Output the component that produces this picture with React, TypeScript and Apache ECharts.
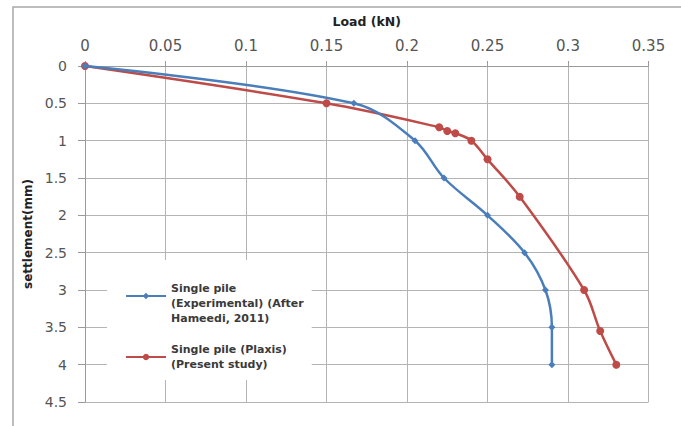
import React, { useEffect, useRef } from "react";
import * as echarts from "echarts";

const loadTicks = [0, 0.05, 0.1, 0.15, 0.2, 0.25, 0.3, 0.35];
const settlementTicks = [0, 0.5, 1, 1.5, 2, 2.5, 3, 3.5, 4, 4.5];

const expLoad = [0, 0.167, 0.205, 0.223, 0.25, 0.273, 0.286, 0.29, 0.29];
const expSettlement = [0, 0.5, 1.0, 1.5, 2.0, 2.5, 3.0, 3.5, 4.0];

const plaxisLoad = [0, 0.15, 0.22, 0.225, 0.23, 0.24, 0.25, 0.27, 0.31, 0.32, 0.33];
const plaxisSettlement = [0, 0.5, 0.82, 0.87, 0.9, 1.0, 1.25, 1.75, 3.0, 3.55, 4.0];

const expName = "Single pile (Experimental) (After Hameedi, 2011)";
const plaxisName = "Single pile (Plaxis) (Present study)";
const legendLabels: Record<string, string> = {
  [expName]: " \nSingle pile\n(Experimental) (After\nHameedi, 2011)",
  [plaxisName]: "Single pile (Plaxis)\n(Present study)",
};

export default function App() {
  const ref = useRef<HTMLDivElement>(null);
  useEffect(() => {
    if (!ref.current) return;
    const chart = echarts.init(ref.current, null, { renderer: "svg" });
    const pair = (xs: number[], ys: number[]) => xs.map((x, i) => [x, ys[i]]);
    chart.setOption({
      animation: false,
      backgroundColor: "#ffffff",
      grid: { left: 85, right: 32.5, top: 66, bottom: 24, containLabel: false },
      graphic: [
        {
          type: "rect",
          shape: { x: 13, y: 7, width: 720, height: 460 },
          style: { fill: "none", stroke: "#a8a8a8", lineWidth: 1.5 },
          silent: true,
          z: -10,
        },
      ],
      xAxis: {
        type: "value",
        position: "top",
        min: loadTicks[0],
        max: loadTicks[loadTicks.length - 1],
        interval: 0.05,
        name: "Load (kN)",
        nameLocation: "middle",
        nameGap: 38,
        nameTextStyle: { fontFamily: "DejaVu Sans", fontWeight: "bold", fontSize: 12.5, color: "#222" },
        axisLine: { show: true, lineStyle: { color: "#9a9a9a", width: 1 } },
        axisTick: { show: true, length: 5, lineStyle: { color: "#9a9a9a" } },
        axisLabel: {
          fontFamily: "DejaVu Sans",
          fontSize: 15,
          color: "#555",
          margin: 13,
          formatter: (v: number) => String(Math.round(v * 100) / 100),
        },
        splitLine: { show: true, lineStyle: { color: "#b4b4b4", width: 1 } },
      },
      yAxis: {
        type: "value",
        inverse: true,
        min: settlementTicks[0],
        max: settlementTicks[settlementTicks.length - 1],
        interval: 0.5,
        name: "settlement(mm)",
        nameLocation: "middle",
        nameGap: 50,
        nameTextStyle: { fontFamily: "DejaVu Sans", fontWeight: "bold", fontSize: 12, color: "#222" },
        axisLine: { show: true, lineStyle: { color: "#9a9a9a", width: 1 } },
        axisTick: { show: true, length: 7, lineStyle: { color: "#9a9a9a" } },
        axisLabel: {
          fontFamily: "DejaVu Sans",
          fontSize: 14,
          color: "#555",
          margin: 18,
          formatter: (v: number) => String(v),
        },
        splitLine: { show: true, lineStyle: { color: "#b4b4b4", width: 1 } },
      },
      legend: {
        orient: "vertical",
        left: 107,
        top: 260,
        padding: [6, 8, 8, 18],
        backgroundColor: "#ffffff",
        itemWidth: 40,
        itemHeight: 8,
        itemGap: 16,
        data: [expName, plaxisName],
        formatter: (name: string) => legendLabels[name] || name,
        textStyle: {
          fontFamily: "DejaVu Sans",
          fontWeight: "bold",
          fontSize: 11,
          lineHeight: 15,
          color: "#3a3a3a",
        },
      },
      series: [
        {
          name: expName,
          type: "line",
          data: pair(expLoad, expSettlement),
          smooth: 0.35,
          symbol: "diamond",
          symbolSize: 7,
          lineStyle: { color: "#4A7EBB", width: 2.5 },
          itemStyle: { color: "#4A7EBB" },
          z: 3,
        },
        {
          name: plaxisName,
          type: "line",
          data: pair(plaxisLoad, plaxisSettlement),
          smooth: 0.35,
          symbol: "circle",
          symbolSize: 8,
          lineStyle: { color: "#BE4B48", width: 2.5 },
          itemStyle: { color: "#BE4B48" },
          z: 2,
        },
      ],
    });
    return () => chart.dispose();
  }, []);
  return (
    <div
      ref={ref}
      style={{ position: "absolute", left: 0, top: 0, width: 681, height: 426 }}
    />
  );
}
